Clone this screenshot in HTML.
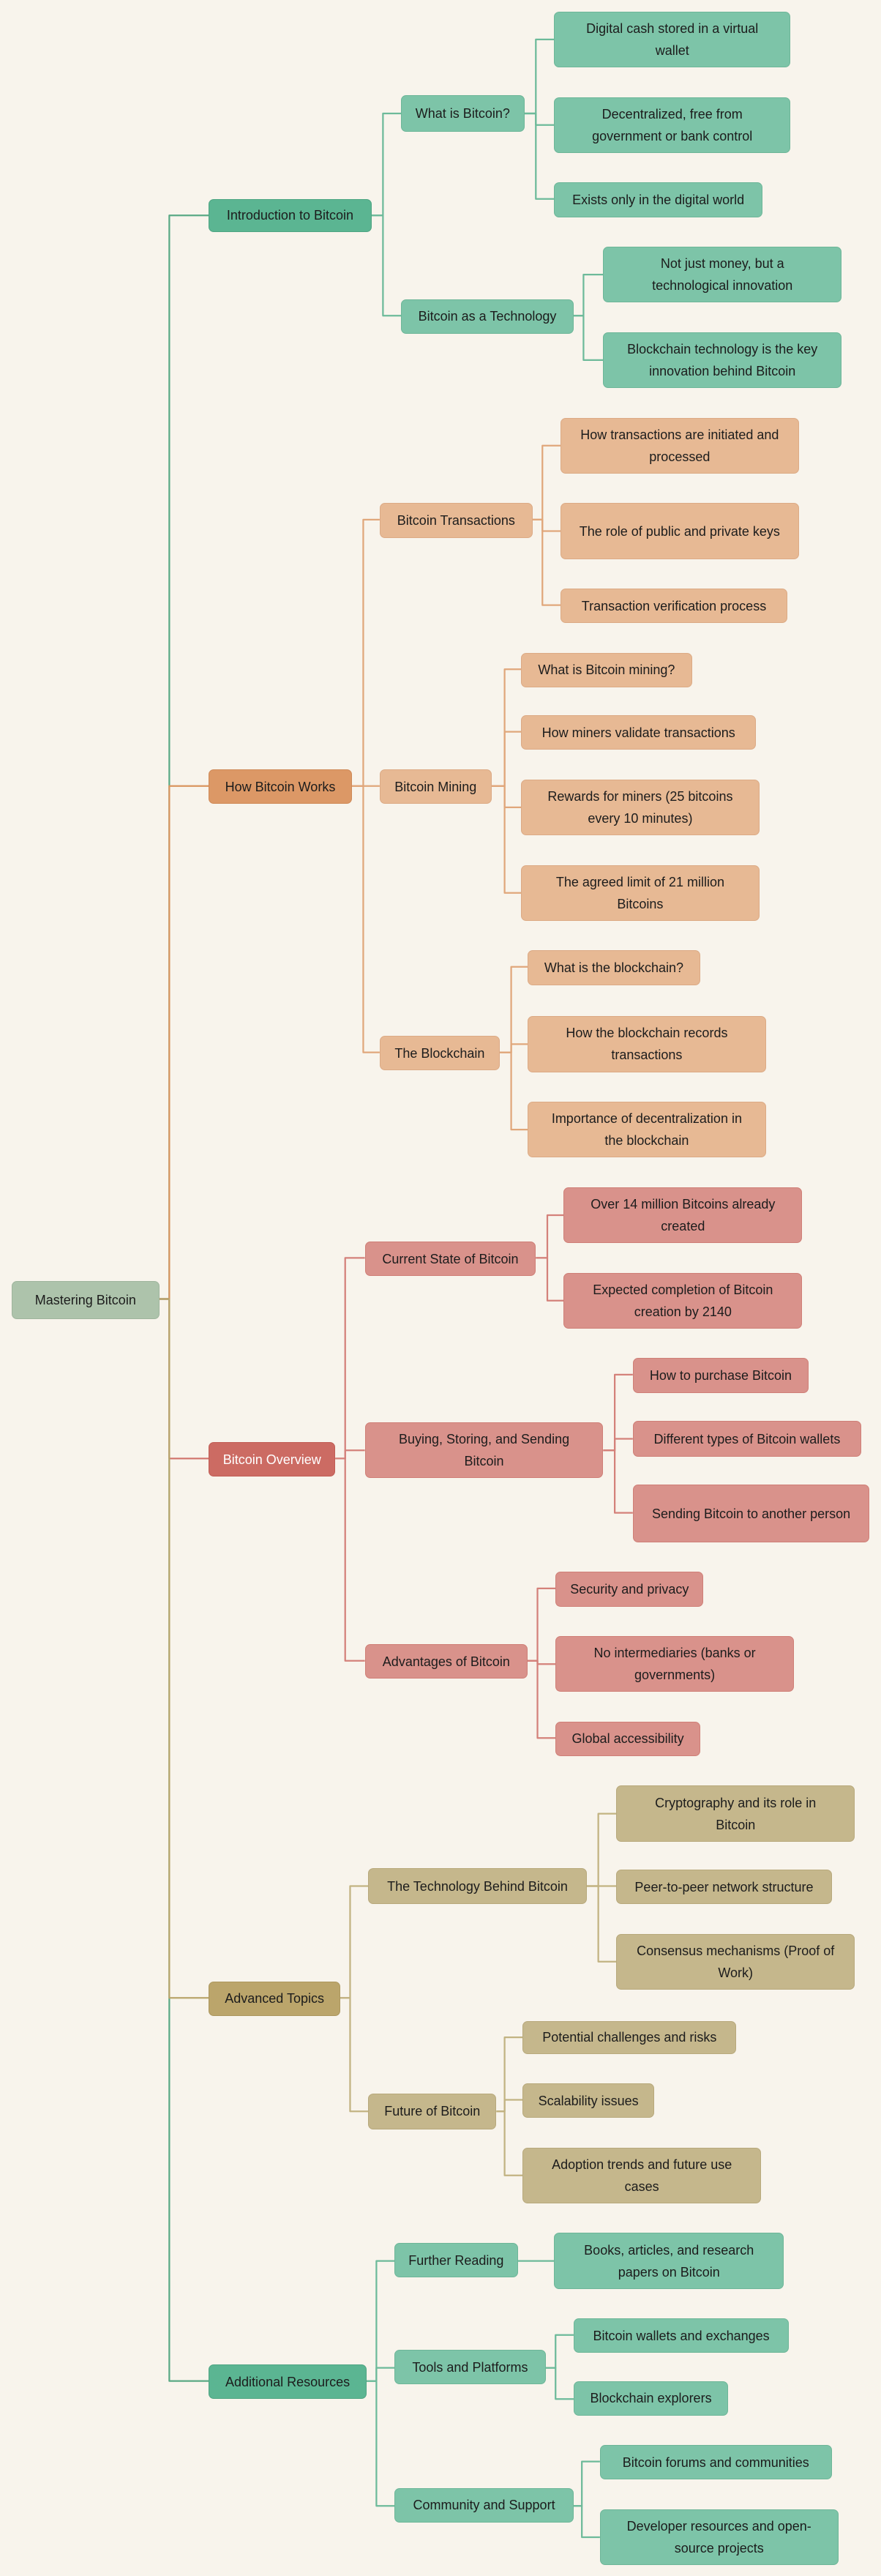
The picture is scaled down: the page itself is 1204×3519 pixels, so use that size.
<!DOCTYPE html>
<html><head><meta charset="utf-8"><style>
html,body{margin:0;padding:0;background:#f8f4ec;}
body{width:1204px;height:3519px;position:relative;overflow:hidden;font-family:"Liberation Sans",sans-serif;}
svg{position:absolute;left:0;top:0;}
.n{position:absolute;left:calc(var(--x)*2.2463px);top:calc(var(--y)*2.2463px);width:calc(var(--w)*2.2463px);height:calc(var(--h)*2.2463px);box-sizing:border-box;border-radius:7px;display:flex;align-items:center;justify-content:center;text-align:center;font-size:18px;line-height:30px;color:#1c1c1c;white-space:nowrap;}
.g1{background:#5bb592;border:1px solid #4fa583}
.g2{background:#7dc4a8;border:1px solid #6db698}
.o1{background:#dc9866;border:1px solid #cf8a58}
.o2{background:#e7b994;border:1px solid #dcaa85}
.r1{background:#cc6b63;border:1px solid #c05d55;color:#fff}
.r2{background:#d9928b;border:1px solid #cf7f77}
.y1{background:#bba56b;border:1px solid #ad975e}
.y2{background:#c5b78c;border:1px solid #b8a97c}
.rt{background:#adc3ab;border:1px solid #9fb59d}
</style></head><body>
<svg width="1204" height="3519" viewBox="0 0 536 1566.6" fill="none" stroke-width="1" stroke-linejoin="round">
<g stroke="#5aa985">
<polyline points="97,790 103,790 103,131 127,131"/>
<polyline points="97,790 103,790 103,1448 127,1448"/>
</g>
<polyline stroke="#d9955f" points="97,790 103,790 103,478 127,478"/>
<polyline stroke="#d0706a" points="97,790 103,790 103,887 127,887"/>
<polyline stroke="#b9a56c" points="97,790 103,790 103,1215 127,1215"/>
<g stroke="#6dba9a">
<polyline points="226,131 233,131 233,69 244,69"/>
<polyline points="226,131 233,131 233,192 244,192"/>
<polyline points="319,69 326,69 326,24 337,24"/>
<polyline points="319,69 326,69 326,76 337,76"/>
<polyline points="319,69 326,69 326,121 337,121"/>
<polyline points="349,192 355,192 355,167 367,167"/>
<polyline points="349,192 355,192 355,219 367,219"/>
<polyline points="223,1448 229,1448 229,1375 240,1375"/>
<polyline points="223,1448 229,1448 229,1440 240,1440"/>
<polyline points="223,1448 229,1448 229,1524 240,1524"/>
<polyline points="315,1375 337,1375"/>
<polyline points="332,1440 338,1440 338,1420 349,1420"/>
<polyline points="332,1440 338,1440 338,1459 349,1459"/>
<polyline points="349,1524 354,1524 354,1497 365,1497"/>
<polyline points="349,1524 354,1524 354,1543 365,1543"/>
</g>
<g stroke="#e0a77b">
<polyline points="214,478 221,478 221,316 231,316"/>
<polyline points="214,478 231,478"/>
<polyline points="214,478 221,478 221,640 231,640"/>
<polyline points="324,316 330,316 330,271 341,271"/>
<polyline points="324,316 330,316 330,323 341,323"/>
<polyline points="324,316 330,316 330,368 341,368"/>
<polyline points="299,478 307,478 307,407 317,407"/>
<polyline points="299,478 307,478 307,445 317,445"/>
<polyline points="299,478 307,478 307,491 317,491"/>
<polyline points="299,478 307,478 307,543 317,543"/>
<polyline points="304,640 311,640 311,588 321,588"/>
<polyline points="304,640 311,640 311,635 321,635"/>
<polyline points="304,640 311,640 311,687 321,687"/>
</g>
<g stroke="#d4817a">
<polyline points="204,887 210,887 210,765 222,765"/>
<polyline points="204,887 210,887 210,882 222,882"/>
<polyline points="204,887 210,887 210,1010 222,1010"/>
<polyline points="326,765 333,765 333,739 343,739"/>
<polyline points="326,765 333,765 333,791 343,791"/>
<polyline points="367,882 374,882 374,836 385,836"/>
<polyline points="367,882 374,882 374,875 385,875"/>
<polyline points="367,882 374,882 374,920 385,920"/>
<polyline points="321,1010 327,1010 327,966 338,966"/>
<polyline points="321,1010 327,1010 327,1012 338,1012"/>
<polyline points="321,1010 327,1010 327,1057 338,1057"/>
</g>
<g stroke="#c2b382">
<polyline points="207,1215 213,1215 213,1147 224,1147"/>
<polyline points="207,1215 213,1215 213,1284 224,1284"/>
<polyline points="357,1147 364,1147 364,1103 375,1103"/>
<polyline points="357,1147 375,1147"/>
<polyline points="357,1147 364,1147 364,1193 375,1193"/>
<polyline points="302,1284 307,1284 307,1239 318,1239"/>
<polyline points="302,1284 307,1284 307,1277 318,1277"/>
<polyline points="302,1284 307,1284 307,1323 318,1323"/>
</g>
</svg>

<div class="n rt" style="--x:7;--y:779;--w:90;--h:23">Mastering Bitcoin</div>

<div class="n g1" style="--x:127;--y:121;--w:99;--h:20">Introduction to Bitcoin</div>
<div class="n g2" style="--x:244;--y:58;--w:75;--h:22">What is Bitcoin?</div>
<div class="n g2" style="--x:244;--y:182;--w:105;--h:21">Bitcoin as a Technology</div>
<div class="n g2" style="--x:337;--y:7;--w:144;--h:34">Digital cash stored in a virtual<br>wallet</div>
<div class="n g2" style="--x:337;--y:59;--w:144;--h:34">Decentralized, free from<br>government or bank control</div>
<div class="n g2" style="--x:337;--y:111;--w:127;--h:21">Exists only in the digital world</div>
<div class="n g2" style="--x:367;--y:150;--w:145;--h:34">Not just money, but a<br>technological innovation</div>
<div class="n g2" style="--x:367;--y:202;--w:145;--h:34">Blockchain technology is the key<br>innovation behind Bitcoin</div>

<div class="n o1" style="--x:127;--y:468;--w:87;--h:21">How Bitcoin Works</div>
<div class="n o2" style="--x:231;--y:306;--w:93;--h:21">Bitcoin Transactions</div>
<div class="n o2" style="--x:231;--y:468;--w:68;--h:21">Bitcoin Mining</div>
<div class="n o2" style="--x:231;--y:630;--w:73;--h:21">The Blockchain</div>
<div class="n o2" style="--x:341;--y:254;--w:145;--h:34">How transactions are initiated and<br>processed</div>
<div class="n o2" style="--x:341;--y:306;--w:145;--h:34">The role of public and private keys</div>
<div class="n o2" style="--x:341;--y:358;--w:138;--h:21">Transaction verification process</div>
<div class="n o2" style="--x:317;--y:397;--w:104;--h:21">What is Bitcoin mining?</div>
<div class="n o2" style="--x:317;--y:435;--w:143;--h:21">How miners validate transactions</div>
<div class="n o2" style="--x:317;--y:474;--w:145;--h:34">Rewards for miners (25 bitcoins<br>every 10 minutes)</div>
<div class="n o2" style="--x:317;--y:526;--w:145;--h:34">The agreed limit of 21 million<br>Bitcoins</div>
<div class="n o2" style="--x:321;--y:578;--w:105;--h:21">What is the blockchain?</div>
<div class="n o2" style="--x:321;--y:618;--w:145;--h:34">How the blockchain records<br>transactions</div>
<div class="n o2" style="--x:321;--y:670;--w:145;--h:34">Importance of decentralization in<br>the blockchain</div>

<div class="n r1" style="--x:127;--y:877;--w:77;--h:21">Bitcoin Overview</div>
<div class="n r2" style="--x:222;--y:755;--w:104;--h:21">Current State of Bitcoin</div>
<div class="n r2" style="--x:222;--y:865;--w:145;--h:34">Buying, Storing, and Sending<br>Bitcoin</div>
<div class="n r2" style="--x:222;--y:1000;--w:99;--h:21">Advantages of Bitcoin</div>
<div class="n r2" style="--x:343;--y:722;--w:145;--h:34">Over 14 million Bitcoins already<br>created</div>
<div class="n r2" style="--x:343;--y:774;--w:145;--h:34">Expected completion of Bitcoin<br>creation by 2140</div>
<div class="n r2" style="--x:385;--y:826;--w:107;--h:21">How to purchase Bitcoin</div>
<div class="n r2" style="--x:385;--y:864;--w:139;--h:22">Different types of Bitcoin wallets</div>
<div class="n r2" style="--x:385;--y:903;--w:144;--h:35">Sending Bitcoin to another person</div>
<div class="n r2" style="--x:338;--y:956;--w:90;--h:21">Security and privacy</div>
<div class="n r2" style="--x:338;--y:995;--w:145;--h:34">No intermediaries (banks or<br>governments)</div>
<div class="n r2" style="--x:338;--y:1047;--w:88;--h:21">Global accessibility</div>

<div class="n y1" style="--x:127;--y:1205;--w:80;--h:21">Advanced Topics</div>
<div class="n y2" style="--x:224;--y:1136;--w:133;--h:22">The Technology Behind Bitcoin</div>
<div class="n y2" style="--x:224;--y:1273;--w:78;--h:22">Future of Bitcoin</div>
<div class="n y2" style="--x:375;--y:1086;--w:145;--h:34">Cryptography and its role in<br>Bitcoin</div>
<div class="n y2" style="--x:375;--y:1137;--w:131;--h:21">Peer-to-peer network structure</div>
<div class="n y2" style="--x:375;--y:1176;--w:145;--h:34">Consensus mechanisms (Proof of<br>Work)</div>
<div class="n y2" style="--x:318;--y:1229;--w:130;--h:20">Potential challenges and risks</div>
<div class="n y2" style="--x:318;--y:1267;--w:80;--h:21">Scalability issues</div>
<div class="n y2" style="--x:318;--y:1306;--w:145;--h:34">Adoption trends and future use<br>cases</div>

<div class="n g1" style="--x:127;--y:1438;--w:96;--h:21">Additional Resources</div>
<div class="n g2" style="--x:240;--y:1364;--w:75;--h:21">Further Reading</div>
<div class="n g2" style="--x:240;--y:1429;--w:92;--h:21">Tools and Platforms</div>
<div class="n g2" style="--x:240;--y:1513;--w:109;--h:21">Community and Support</div>
<div class="n g2" style="--x:337;--y:1358;--w:140;--h:34">Books, articles, and research<br>papers on Bitcoin</div>
<div class="n g2" style="--x:349;--y:1410;--w:131;--h:21">Bitcoin wallets and exchanges</div>
<div class="n g2" style="--x:349;--y:1448;--w:94;--h:21">Blockchain explorers</div>
<div class="n g2" style="--x:365;--y:1487;--w:141;--h:21">Bitcoin forums and communities</div>
<div class="n g2" style="--x:365;--y:1526;--w:145;--h:34">Developer resources and open-<br>source projects</div>
</body></html>
